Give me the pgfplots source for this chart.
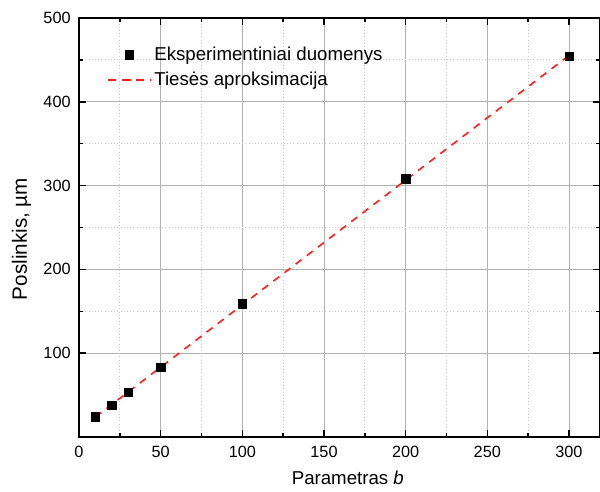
\documentclass[border=0pt]{standalone}
\usepackage{pgfplots}
\pgfplotsset{compat=1.18}
\usepackage{fontspec}
\setmainfont{Liberation Sans}

\begin{document}
\begin{tikzpicture}
\definecolor{fitred}{RGB}{255,30,30}
\begin{axis}[
    scale only axis,
    width=390.75pt, height=314.25pt,
    xmin=0, xmax=319,
    ymin=0, ymax=500,
    xtick={0,50,...,300},
    ytick={100,200,...,500},
    minor x tick num=1,
    minor y tick num=1,
    tick align=inside,
    major tick length=5pt,
    minor tick length=3pt,
    axis line style={line width=1.2pt},
    every tick/.style={black, line width=1.1pt},
    grid=both,
    major grid style={gray!60, line width=0.6pt},
    minor grid style={gray!40, dotted, line width=0.6pt},
    /pgf/number format/assume math mode=true,
    tick label style={font=\fontsize{12.2}{14}\selectfont},
    x tick label style={yshift=-3.5pt},
    y tick label style={xshift=-2.75pt},
    xlabel={Parametras \textit{b}},
    ylabel={Poslinkis, µm},
    every axis x label/.style={font=\fontsize{14}{16}\selectfont,
        at={(axis description cs:0.516,0)}, anchor=base, yshift=-36pt},
    every axis y label/.style={font=\fontsize{15.5}{18}\selectfont,
        at={(axis description cs:0,0.4725)}, xshift=-39pt, rotate=90, anchor=base},
    legend style={draw=none, fill=none, inner sep=0pt,
        at={(axis description cs:0.054,0.9375)},
        anchor=north west, font=\fontsize{14}{16}\selectfont,
        row sep=3pt},
    legend image code/.code={\draw[mark repeat=2,mark phase=2]
        plot coordinates {(0pt,0pt) (16pt,0pt) (32pt,0pt)};},
    legend cell align=left,
]
\addplot[only marks, mark=square*, mark size=3.1pt, black] coordinates {
    (10,24) (20,38) (30,53) (50,83) (100,159) (200,308) (300,454)
};
\addlegendentry{Eksperimentiniai duomenys}
\addplot[fitred, line width=1.2pt, dash pattern=on 5.6pt off 4.9pt] coordinates {
    (10,23.8) (300,455.3)
};
\addlegendentry{Tiesės aproksimacija}
\end{axis}
\pgfresetboundingbox
\useasboundingbox (current axis.south west) ++(-59.25pt,-41.25pt) rectangle ++(450pt,369pt);
\end{tikzpicture}
\end{document}
